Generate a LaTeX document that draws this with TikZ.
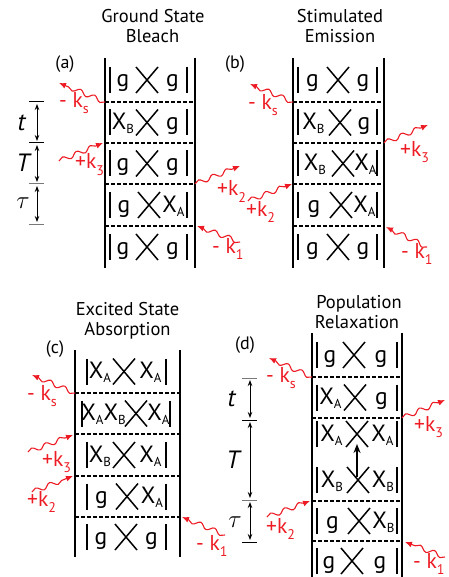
\documentclass[tikz,border=0pt]{standalone}
\usepackage{fontspec}
\setmainfont{PT Sans}
\usetikzlibrary{arrows.meta, decorations.pathmorphing}
\definecolor{kred}{RGB}{237,28,36}
\definecolor{tickgrey}{RGB}{120,120,120}

\newcommand{\lowsub}[1]{\raisebox{-4pt}{\fontsize{13}{13}\selectfont #1}}
\newcommand{\ksub}[1]{\raisebox{-6pt}{\fontsize{14}{14}\selectfont #1}}
% one row |bra >< ket| : name, left bar, right bar, X centre, row centre, left text, right text
\newcommand{\ketrow}[7]{%
  \draw[ketline] (#2,#5-13) -- (#2,#5+13);
  \draw[ketline] (#3,#5-13) -- (#3,#5+13);
  \draw[ketline] (#4-11,#5-13) -- (#4+11,#5+13);
  \draw[ketline] (#4+11,#5-13) -- (#4-11,#5+13);
  \node[kettext] (#1l) at ({(#2+#4-11)/2},#5+7) {#6};
  \node[kettext] (#1r) at ({(#4+11+#3)/2},#5+7) {#7};
}

\tikzset{
  frame/.style={line width=1.4pt},
  slice/.style={line width=1.2pt, dash pattern=on 3.5pt off 2.5pt},
  ketline/.style={line width=1.5pt},
  kettext/.style={font=\fontsize{23.5}{23.5}\selectfont, anchor=base, inner sep=0pt},
  photon/.style={kred, line width=1.1pt, decorate,
    decoration={snake, amplitude=2.4pt, segment length=15pt, post length=6pt},
    -{Latex[length=7pt,width=6pt]}},
  klabel/.style={kred, font=\fontsize{21.5}{21.5}\selectfont, anchor=base west, inner sep=0pt},
  title/.style={font=\fontsize{18.5}{18.5}\selectfont, anchor=base, inner sep=0pt},
  tag/.style={font=\fontsize{18}{18}\selectfont, inner sep=0pt},
  timelbl/.style={font=\fontsize{25}{25}\selectfont, inner sep=0pt},
  tick/.style={line width=1pt},
  delay/.style={line width=1pt, {Stealth[length=6pt,width=4.5pt]}-{Stealth[length=6pt,width=4.5pt]},
    shorten <=2pt, shorten >=2pt},
  relax/.style={line width=1.6pt, -{Stealth[length=9pt,width=7pt]}},
}

\begin{document}
\begin{tikzpicture}[x=1pt, y=-1pt]
\useasboundingbox (0,0) rectangle (448,577);

% (a) ground state bleach
\node[title] (ta1) at (153,23) {Ground State};
\node[title] (ta2) at (152.5,43) {Bleach};
\node[tag] (tga) at (65,64) {(a)};
\draw[frame] (105,58) -- (105,268);
\draw[frame] (195,58) -- (195,268);
\foreach \y in {102,143,184,226} \draw[slice] (105,\y) -- (195,\y);
\ketrow{a1}{110}{187}{147}{80}{g}{g}
\ketrow{a2}{110}{187}{147}{122.5}{X\lowsub{B}}{g}
\ketrow{a3}{110}{187}{147}{163.5}{g}{g}
\ketrow{a4}{110}{187}{149}{205}{g}{X\lowsub{A}}
\ketrow{a5}{110}{187}{147}{247}{g}{g}
% delays
\draw[tick] (29,102) -- (44,102);
\draw[tick] (29,143) -- (44,143);
\draw[tick, tickgrey] (29,184) -- (44,184);
\draw[tick, tickgrey] (29,224) -- (44,224);
\coordinate (at0) at (37,102); \coordinate (at1) at (37,143);
\coordinate (at2) at (37,184); \coordinate (at3) at (37,224);
\draw[delay] (at0) -- (at1);
\draw[delay] (at1) -- (at2);
\draw[delay] (at2) -- (at3);
\node[timelbl] (alt) at (22,123) {\textit{t}};
\node[timelbl] (alT) at (24,163) {\textit{T}};
\node[timelbl] (altau) at (23,203) {$\tau$};
% fields
\coordinate (aks0) at (105,102); \coordinate (aks1) at (59,83);
\coordinate (ak30) at (59,161);  \coordinate (ak31) at (103,143);
\coordinate (ak20) at (195,184); \coordinate (ak21) at (240,166);
\coordinate (ak10) at (240,242); \coordinate (ak11) at (197,226);
\draw[photon] (aks0) -- (aks1);
\draw[photon] (ak30) -- (ak31);
\draw[photon] (ak20) -- (ak21);
\draw[photon] (ak10) -- (ak11);
\node[klabel] (laks) at (59,108) {- k\ksub{s}};
\node[klabel] (lak3) at (75,169) {+k\ksub{3}};
\node[klabel] (lak2) at (217,196) {+k\ksub{2}};
\node[klabel] (lak1) at (212,253) {- k\ksub{1}};

% (b) stimulated emission
\node[title] (tb1) at (340,23) {Stimulated};
\node[title] (tb2) at (340,43) {Emission};
\node[tag] (tgb) at (235,64) {(b)};
\draw[frame] (293,58) -- (293,268);
\draw[frame] (384,58) -- (384,268);
\foreach \y in {102,143,184,226} \draw[slice] (293,\y) -- (384,\y);
\ketrow{b1}{298}{377}{338}{80}{g}{g}
\ketrow{b2}{298}{377}{340}{122.5}{X\lowsub{B}}{g}
\ketrow{b3}{298}{377}{343}{163.5}{X\lowsub{B}}{X\lowsub{A}}
\ketrow{b4}{298}{377}{341}{205}{g}{X\lowsub{A}}
\ketrow{b5}{298}{377}{338}{247}{g}{g}
\coordinate (bks0) at (293,102); \coordinate (bks1) at (250,84);
\coordinate (bk30) at (384,143); \coordinate (bk31) at (428,125);
\coordinate (bk20) at (248,201); \coordinate (bk21) at (292,184);
\coordinate (bk10) at (427,247); \coordinate (bk11) at (386,227);
\draw[photon] (bks0) -- (bks1);
\draw[photon] (bk30) -- (bk31);
\draw[photon] (bk20) -- (bk21);
\draw[photon] (bk10) -- (bk11);
\node[klabel] (lbks) at (248,110) {- k\ksub{s}};
\node[klabel] (lbk3) at (400,157) {+k\ksub{3}};
\node[klabel] (lbk2) at (246,216) {+k\ksub{2}};
\node[klabel] (lbk1) at (401,258) {- k\ksub{1}};

% (c) excited state absorption
\node[title] (tc1) at (127.5,315) {Excited State};
\node[title] (tc2) at (127.5,335) {Absorption};
\node[tag] (tgc) at (55,349) {(c)};
\draw[frame] (75,350) -- (75,557);
\draw[frame] (180,350) -- (180,557);
\foreach \y in {393,434,476,517} \draw[slice] (75,\y) -- (180,\y);
\ketrow{c1}{87}{166}{124}{371.5}{X\lowsub{A}}{X\lowsub{A}}
\ketrow{c2}{82}{170}{136}{413.5}{X\lowsub{A}X\lowsub{B}}{X\lowsub{A}}
\ketrow{c3}{87}{166}{124}{455}{X\lowsub{B}}{X\lowsub{A}}
\ketrow{c4}{87}{166}{127}{496.5}{g}{X\lowsub{A}}
\ketrow{c5}{87}{166}{126}{537}{g}{g}
\coordinate (cks0) at (75,393);  \coordinate (cks1) at (32,375);
\coordinate (ck30) at (28,452);  \coordinate (ck31) at (73,435);
\coordinate (ck20) at (32,492);  \coordinate (ck21) at (73,476);
\coordinate (ck10) at (225,535); \coordinate (ck11) at (182,517);
\draw[photon] (cks0) -- (cks1);
\draw[photon] (ck30) -- (ck31);
\draw[photon] (ck20) -- (ck21);
\draw[photon] (ck10) -- (ck11);
\node[klabel] (lcks) at (27,400) {- k\ksub{s}};
\node[klabel] (lck3) at (42,466) {+k\ksub{3}};
\node[klabel] (lck2) at (27,506) {+k\ksub{2}};
\node[klabel] (lck1) at (196,550) {- k\ksub{1}};

% (d) population relaxation
\node[title] (td1) at (359,308) {Population};
\node[title] (td2) at (357,328) {Relaxation};
\node[tag] (tgd) at (245,345) {(d)};
\draw[frame] (312,333) -- (312,577);
\draw[frame] (402,333) -- (402,577);
\foreach \y in {377,418,501,541} \draw[slice] (312,\y) -- (402,\y);
\ketrow{d1}{317}{397}{354}{355}{g}{g}
\ketrow{d2}{317}{397}{355}{397.5}{X\lowsub{A}}{g}
\ketrow{d3}{317}{397}{357}{434}{X\lowsub{A}}{X\lowsub{A}}
\ketrow{d4}{317}{397}{358}{480}{X\lowsub{B}}{X\lowsub{B}}
\ketrow{d5}{317}{397}{359}{521}{g}{X\lowsub{B}}
\ketrow{d6}{317}{397}{352}{561}{g}{g}
\coordinate (dup0) at (357,477); \coordinate (dup1) at (357,444);
\draw[relax] (dup0) -- (dup1);
% delays
\draw[tick, tickgrey] (242,378) -- (257,378);
\draw[tick] (242,420) -- (257,420);
\draw[tick, tickgrey] (242,500) -- (257,500);
\draw[tick] (242,542) -- (257,542);
\coordinate (dt0) at (250,378); \coordinate (dt1) at (250,420);
\coordinate (dt2) at (250,500); \coordinate (dt3) at (250,542);
\draw[delay] (dt0) -- (dt1);
\draw[delay] (dt1) -- (dt2);
\draw[delay] (dt2) -- (dt3);
\node[timelbl] (dlt) at (232,399) {\textit{t}};
\node[timelbl] (dlT) at (234,460) {\textit{T}};
\node[timelbl] (dltau) at (235,522) {$\tau$};
\coordinate (dks0) at (312,377); \coordinate (dks1) at (269,358);
\coordinate (dk30) at (402,418); \coordinate (dk31) at (445,400);
\coordinate (dk20) at (267,517); \coordinate (dk21) at (310,501);
\coordinate (dk10) at (445,557); \coordinate (dk11) at (405,542);
\draw[photon] (dks0) -- (dks1);
\draw[photon] (dk30) -- (dk31);
\draw[photon] (dk20) -- (dk21);
\draw[photon] (dk10) -- (dk11);
\node[klabel] (ldks) at (266,382) {- k\ksub{s}};
\node[klabel] (ldk3) at (414,431) {+k\ksub{3}};
\node[klabel] (ldk2) at (266,533) {+k\ksub{2}};
\node[klabel] (ldk1) at (413,568) {- k\ksub{1}};
\end{tikzpicture}
\end{document}
